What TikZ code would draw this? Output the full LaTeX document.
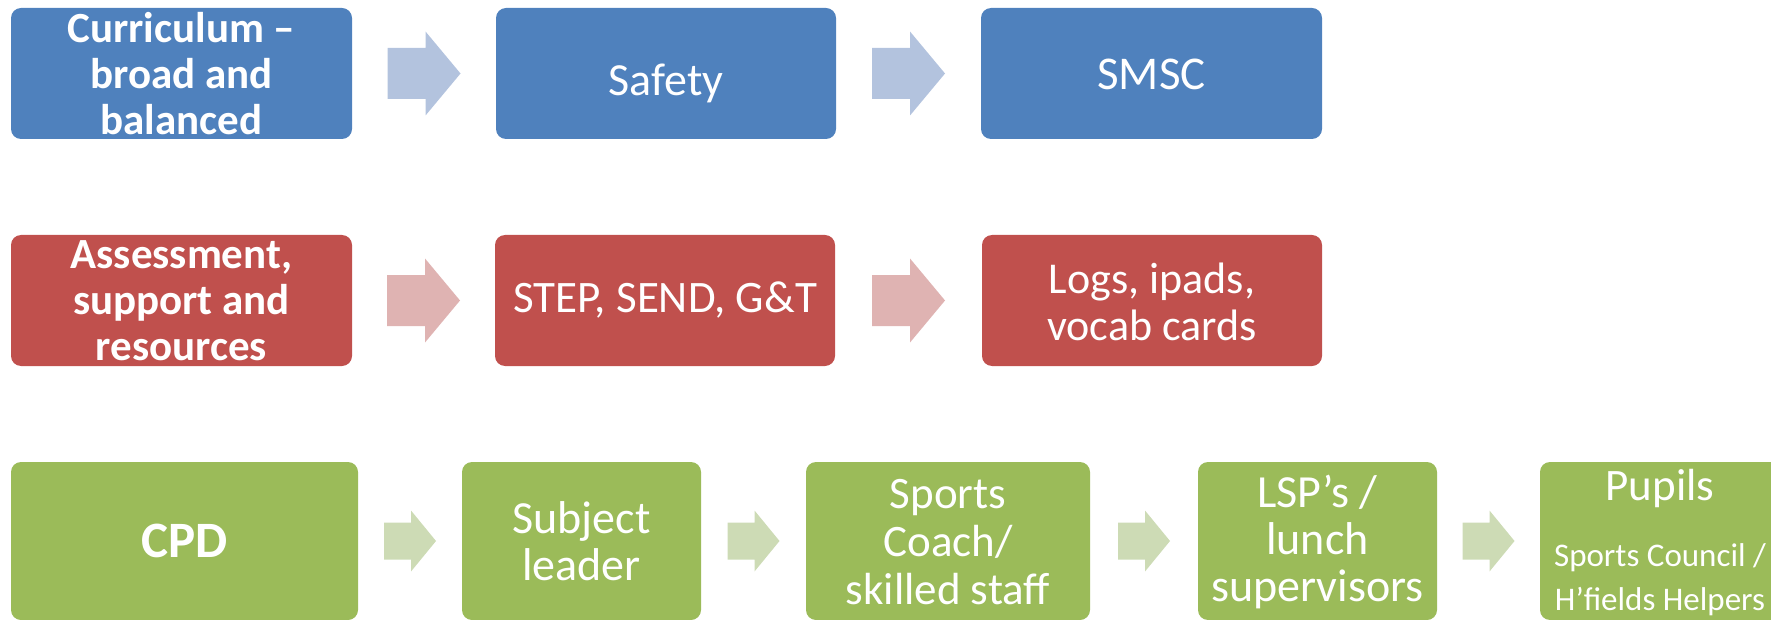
\documentclass[tikz,border=0pt]{standalone}
\usepackage{fontspec}
\setmainfont{Carlito}
\usetikzlibrary{calc}
\definecolor{blueb}{HTML}{4F81BD}
\definecolor{redb}{HTML}{C0504D}
\definecolor{greenb}{HTML}{9BBB59}
\definecolor{bluea}{HTML}{B3C3DE}
\definecolor{reda}{HTML}{DFB3B2}
\definecolor{greena}{HTML}{CDDBB5}
\newcommand\FsBold[2]{\fontsize{#1}{#2}\selectfont\bfseries}
\newcommand\FsReg[2]{\fontsize{#1}{#2}\selectfont}
% #1 from node, #2 to node, #3 colour, #4 half length, #5 shaft half height, #6 head half height, #7 head length
\newcommand\blockarrow[7]{%
  \coordinate (#1-#2) at ($(#1.east)!0.5!(#2.west)$);
  \fill[#3] ($(#1-#2)+(-#4,-#5)$) -- ($(#1-#2)+({#4-#7},-#5)$) -- ($(#1-#2)+({#4-#7},-#6)$)
    -- ($(#1-#2)+(#4,0)$) -- ($(#1-#2)+({#4-#7},#6)$) -- ($(#1-#2)+({#4-#7},#5)$)
    -- ($(#1-#2)+(-#4,#5)$) -- cycle;}
\begin{document}
\begin{tikzpicture}[x=1pt,y=-1pt,
  box/.style={rounded corners=10pt, inner sep=0pt, minimum height=131pt},
  boxlow/.style={rounded corners=10pt, inner sep=0pt, minimum height=158pt, fill=greenb},
  lbl/.style={text=white, align=center, inner sep=0pt}]
\useasboundingbox (0,0) rectangle (1771,620);
\clip (0,0) rectangle (1771,620);

% row 1
\node[box, fill=blueb, minimum width=341pt] (b11) at (181.5,73.5) {};
\node[box, fill=blueb, minimum width=340pt] (b12) at (666,73.5) {};
\node[box, fill=blueb, minimum width=341pt] (b13) at (1151.5,73.5) {};
\blockarrow{b11}{b12}{bluea}{36.5}{25.5}{42}{35}
\blockarrow{b12}{b13}{bluea}{36.5}{25.5}{42}{35}
\node[lbl, font=\FsBold{43}{46}] (t11) at ($(b11.center)+(0,0)$) {Curriculum –\\broad and\\balanced};
\node[lbl, font=\FsReg{46}{50}] (t12) at ($(b12.center)+(0,10)$) {Safety};
\node[lbl, font=\FsReg{47}{50}] (t13) at ($(b13.center)+(0,1)$) {SMSC};

% row 2
\node[box, fill=redb, minimum width=341pt] (b21) at (181.5,300.5) {};
\node[box, fill=redb, minimum width=340pt] (b22) at (665,300.5) {};
\node[box, fill=redb, minimum width=340pt] (b23) at (1152,300.5) {};
\blockarrow{b21}{b22}{reda}{36.5}{25.5}{42}{35}
\blockarrow{b22}{b23}{reda}{36.5}{25.5}{42}{35}
\node[lbl, font=\FsBold{43}{46}] (t21) at ($(b21.center)+(0,0)$) {Assessment,\\support and\\resources};
\node[lbl, font=\FsReg{45}{50}] (t22) at ($(b22.center)+(0,0)$) {STEP, SEND, G\&T};
\node[lbl, font=\FsReg{44}{47}] (t23) at ($(b23.center)+(0,1)$) {Logs, ipads,\\vocab cards};

% row 3
\node[boxlow, minimum width=347pt] (b31) at (184.5,541) {};
\node[boxlow, minimum width=239pt] (b32) at (581.5,541) {};
\node[boxlow, minimum width=284pt] (b33) at (948,541) {};
\node[boxlow, minimum width=239pt] (b34) at (1317.5,541) {};
\node[boxlow, minimum width=240pt] (b35) at (1660,541) {};
\blockarrow{b31}{b32}{greena}{26}{18.5}{30.5}{25}
\blockarrow{b32}{b33}{greena}{26}{18.5}{30.5}{25}
\blockarrow{b33}{b34}{greena}{26}{18.5}{30.5}{25}
\blockarrow{b34}{b35}{greena}{26}{18.5}{30.5}{25}
\node[lbl, font=\FsBold{51}{54}] (t31) at ($(b31.center)+(0,0)$) {CPD};
\node[lbl, font=\FsReg{46}{47}] (t32) at ($(b32.center)+(0,0)$) {Subject\\leader};
\node[lbl, font=\FsReg{45}{48}] (t33) at ($(b33.center)+(0,1)$) {Sports\\Coach/\\skilled staff};
\node[lbl, font=\FsReg{46}{47}] (t34) at ($(b34.center)+(0,1)$) {LSP’s /\\lunch\\supervisors};
\node[lbl, font=\FsReg{33}{44}] (t35) at ($(b35.center)+(0,2)$) {{\FsReg{45}{45}Pupils}\\[22pt]Sports Council /\\H’fields Helpers};
\end{tikzpicture}
\end{document}
